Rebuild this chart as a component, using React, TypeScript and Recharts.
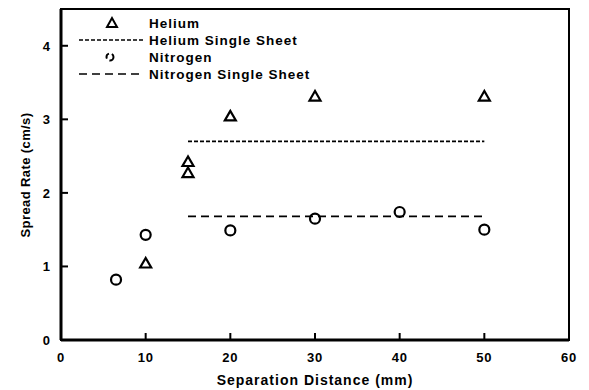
import React from 'react';
import { ComposedChart, Scatter, XAxis, YAxis, ReferenceLine, ReferenceArea, Legend } from 'recharts';

const heliumX = [10, 15, 15, 20, 30, 50];
const heliumY = [1.04, 2.42, 2.27, 3.04, 3.31, 3.31];
const nitrogenX = [6.5, 10, 20, 30, 40, 50];
const nitrogenY = [0.82, 1.43, 1.49, 1.65, 1.74, 1.5];
const heliumSheetX = [15, 50];
const heliumSheetY = 2.7;
const nitrogenSheetX = [15, 50];
const nitrogenSheetY = 1.68;
const xTicks = [0, 10, 20, 30, 40, 50, 60];
const yTicks = [0, 1, 2, 3, 4];
const legendLabels = ['Helium', 'Helium Single Sheet', 'Nitrogen', 'Nitrogen Single Sheet'];

const helium = heliumX.map((x, i) => ({ x, y: heliumY[i] }));
const nitrogen = nitrogenX.map((x, i) => ({ x, y: nitrogenY[i] }));

const FONT = '"Liberation Sans", Arial, sans-serif';

const Triangle = (props: any) => {
  const { cx, cy } = props;
  return (
    <polygon
      points={`${cx},${cy - 5.5} ${cx - 5.5},${cy + 4} ${cx + 5.5},${cy + 4}`}
      fill="none"
      stroke="#000"
      strokeWidth={2.2}
      strokeLinejoin="miter"
    />
  );
};

const Circle = (props: any) => {
  const { cx, cy } = props;
  return <circle cx={cx} cy={cy} r={5} fill="none" stroke="#000" strokeWidth={2.2} />;
};

const XTick = (props: any) => {
  const { x, y, payload } = props;
  return (
    <g>
      {payload.value !== 0 && payload.value !== 60 && (
        <line x1={x} y1={y} x2={x} y2={y - 7} stroke="#000" strokeWidth={2} />
      )}
      <text x={x} y={y + 22} textAnchor="middle" fontFamily={FONT} fontWeight="bold" fontSize={13} letterSpacing={0.8} fill="#000">
        {payload.value}
      </text>
    </g>
  );
};

const YTick = (props: any) => {
  const { x, y, payload } = props;
  return (
    <g>
      {payload.value !== 0 && (
        <line x1={x} y1={y} x2={x + 7} y2={y} stroke="#000" strokeWidth={2} />
      )}
      <text x={x - 11} y={y + 5} textAnchor="end" fontFamily={FONT} fontWeight="bold" fontSize={13} fill="#000">
        {payload.value}
      </text>
    </g>
  );
};

const LegendContent = () => {
  const tx = 149;
  const rows = [23, 40, 57, 74];
  return (
    <svg width={340} height={90} style={{ display: 'block' }}>
      <polygon points={`112,${rows[0] - 5} 107,${rows[0] + 4} 117,${rows[0] + 4}`} fill="none" stroke="#000" strokeWidth={2} />
      <line x1={79} y1={rows[1]} x2={143} y2={rows[1]} stroke="#000" strokeWidth={1.6} strokeDasharray="4 2" />
      <circle cx={110} cy={rows[2]} r={3.5} fill="none" stroke="#000" strokeWidth={2} strokeDasharray="6 3" />
      <line x1={79} y1={rows[3]} x2={143} y2={rows[3]} stroke="#000" strokeWidth={1.6} strokeDasharray="8 5" />
      {legendLabels.map((l, i) => (
        <text key={l} x={tx} y={rows[i] + 5} fontFamily={FONT} fontWeight="bold" fontSize={13.5} letterSpacing={1} fill="#000">
          {l}
        </text>
      ))}
    </svg>
  );
};

export default function App() {
  return (
    <div style={{ position: 'absolute', left: 0, top: 0, background: '#fff' }}>
      <ComposedChart width={589} height={390} margin={{ top: 9, right: 20, bottom: 0, left: 0 }}>
        <XAxis
          dataKey="x"
          type="number"
          domain={[0, 60]}
          ticks={xTicks}
          tickSize={0}
          tickMargin={0}
          tickLine={false}
          tick={<XTick />}
          axisLine={{ stroke: '#000', strokeWidth: 3 }}
          height={50}
          allowDataOverflow
          label={{
            content: () => (
              <text x={315} y={385} textAnchor="middle" fontFamily={FONT} fontWeight="bold" fontSize={14} letterSpacing={1} fill="#000">
                Separation Distance (mm)
              </text>
            ),
          }}
        />
        <YAxis
          dataKey="y"
          type="number"
          domain={[0, 4.5]}
          ticks={yTicks}
          tickSize={0}
          tickMargin={0}
          tickLine={false}
          tick={<YTick />}
          axisLine={{ stroke: '#000', strokeWidth: 3 }}
          width={61}
          allowDataOverflow
          label={{
            content: () => (
              <text
                x={25}
                y={175}
                transform="rotate(-90 25 175)"
                textAnchor="middle"
                dominantBaseline="central"
                fontFamily={FONT}
                fontWeight="bold"
                fontSize={13}
                letterSpacing={0.4}
                fill="#000"
              >
                Spread Rate (cm/s)
              </text>
            ),
          }}
        />
        <ReferenceArea x1={0} x2={60} y1={0} y2={4.5} fill="none" stroke="#000" strokeWidth={2} ifOverflow="visible" />
        <ReferenceLine
          segment={[{ x: heliumSheetX[0], y: heliumSheetY }, { x: heliumSheetX[1], y: heliumSheetY }]}
          stroke="#000"
          strokeWidth={1.8}
          strokeDasharray="4 2"
        />
        <ReferenceLine
          segment={[{ x: nitrogenSheetX[0], y: nitrogenSheetY }, { x: nitrogenSheetX[1], y: nitrogenSheetY }]}
          stroke="#000"
          strokeWidth={1.8}
          strokeDasharray="8 5"
        />
        <Scatter name="Helium" data={helium} shape={<Triangle />} isAnimationActive={false} />
        <Scatter name="Nitrogen" data={nitrogen} shape={<Circle />} isAnimationActive={false} />
        <Legend
          layout="vertical"
          align="center"
          verticalAlign="middle"
          content={<LegendContent />}
          wrapperStyle={{ position: 'absolute', left: 0, top: 0, width: 340, height: 90 }}
        />
      </ComposedChart>
    </div>
  );
}
